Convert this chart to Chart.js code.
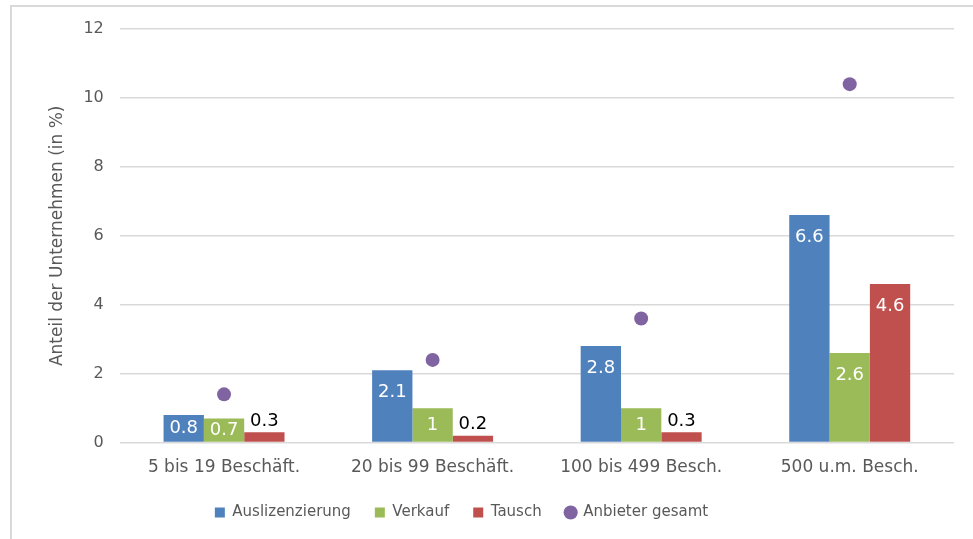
<!DOCTYPE html>
<html>
<head>
<meta charset="utf-8">
<script src="https://cdn.jsdelivr.net/npm/chart.js@4.4.1/dist/chart.umd.min.js"></script>
<style>
  html, body { margin: 0; padding: 0; background: #fff; }
  #rahmen {
    position: absolute; left: 10px; top: 5px; width: 980px; height: 560px;
    border-left: 2px solid #d9d9d9; border-top: 2px solid #d9d9d9;
  }
  #wrap { position: absolute; left: 0; top: 0; width: 973px; height: 539px; }
</style>
</head>
<body>
<div id="rahmen"></div>
<div id="wrap"><canvas id="grafik"></canvas></div>
<script>
const kategorien = ['5 bis 19 Beschäft.', '20 bis 99 Beschäft.', '100 bis 499 Besch.', '500 u.m. Besch.'];
const auslizenzierung = [0.8, 2.1, 2.8, 6.6];
const verkauf = [0.7, 1, 1, 2.6];
const tausch = [0.3, 0.2, 0.3, 4.6];
const anbieterGesamt = [1.4, 2.4, 3.6, 10.4];
const yTicks = [0, 2, 4, 6, 8, 10, 12];

const schrift = '"DejaVu Sans", "Noto Sans", sans-serif';
const grau = '#595959';

// Werte in/über den Balken (wie Excel-Datenbeschriftung)
const beschriftung = {
  id: 'beschriftung',
  afterLayout(chart) {
    // Legende wie im Original etwas nach links und oben
    chart.legend.left -= 37;
    chart.legend.right -= 37;
    chart.legend.top -= 4;
    chart.legend.bottom -= 4;
  },
  afterDatasetsDraw(chart) {
    const ctx = chart.ctx;
    ctx.save();
    ctx.font = '18px ' + schrift;
    ctx.textAlign = 'center';
    ctx.textBaseline = 'middle';
    chart.data.datasets.forEach((ds, i) => {
      if (ds.type === 'line') return;
      const meta = chart.getDatasetMeta(i);
      meta.data.forEach((bar, j) => {
        const wert = ds.data[j];
        const h = bar.base - bar.y;
        if (wert >= 0.6) {
          ctx.fillStyle = '#ffffff';
          ctx.fillText(String(wert), bar.x, bar.y + Math.min(h / 2, 22));
        } else {
          ctx.fillStyle = '#000000';
          ctx.fillText(String(wert), bar.x, bar.y - 11);
        }
      });
    });
    ctx.restore();
  }
};

new Chart(document.getElementById('grafik'), {
  data: {
    labels: kategorien,
    datasets: [
      { type: 'bar', label: 'Auslizenzierung', data: auslizenzierung, backgroundColor: '#4f81bd', pointStyle: 'rect' },
      { type: 'bar', label: 'Verkauf', data: verkauf, backgroundColor: '#9bbb59', pointStyle: 'rect' },
      { type: 'bar', label: 'Tausch', data: tausch, backgroundColor: '#c0504d', pointStyle: 'rect' },
      {
        type: 'line', label: 'Anbieter gesamt', data: anbieterGesamt,
        showLine: false, pointStyle: 'circle', pointRadius: 7, pointHoverRadius: 7,
        backgroundColor: '#8064a2', borderColor: '#8064a2', borderWidth: 0
      }
    ]
  },
  options: {
    responsive: true,
    maintainAspectRatio: false,
    animation: false,
    datasets: { bar: { barPercentage: 1, categoryPercentage: 0.58 } },
    layout: { padding: { left: 43, right: 19, top: 29, bottom: 5 } },
    plugins: {
      tooltip: { enabled: false },
      legend: {
        position: 'bottom',
        labels: {
          usePointStyle: true,
          boxWidth: 10,
          boxHeight: 10,
          padding: 24,
          color: grau,
          font: { family: schrift, size: 15 },
          sort: (a, b) => a.datasetIndex - b.datasetIndex
        }
      }
    },
    scales: {
      x: {
        grid: { display: false },
        border: { display: false },
        ticks: { color: grau, font: { family: schrift, size: 17 }, padding: 7 }
      },
      y: {
        min: 0,
        max: 12,
        afterBuildTicks: (ax) => { ax.ticks = yTicks.map((v) => ({ value: v })); },
        grid: { color: '#d9d9d9', lineWidth: 1.5, drawTicks: false },
        border: { display: false },
        ticks: { color: grau, font: { family: schrift, size: 16 }, padding: 16 },
        title: {
          display: true,
          text: 'Anteil der Unternehmen (in %)',
          color: grau,
          font: { family: schrift, size: 17 },
          padding: { top: 4, bottom: 0 }
        }
      }
    }
  },
  plugins: [beschriftung]
});
</script>
</body>
</html>
